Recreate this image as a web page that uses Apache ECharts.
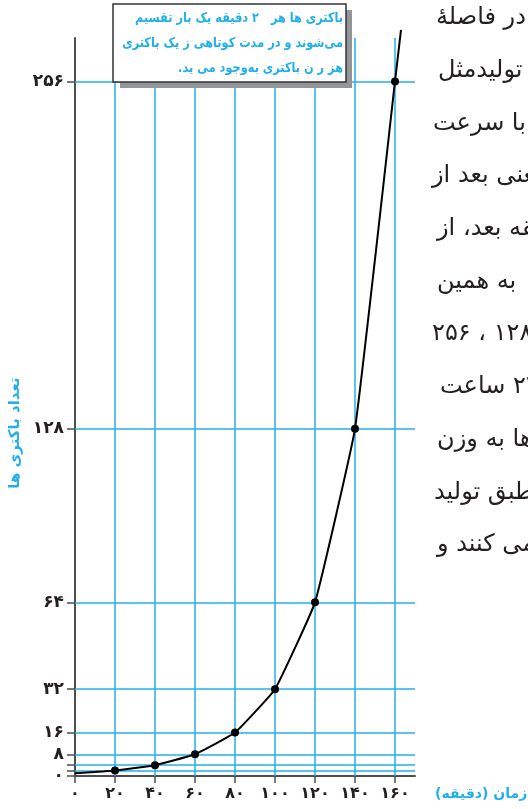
<!DOCTYPE html>
<html>
<head>
<meta charset="utf-8">
<script src="https://cdn.jsdelivr.net/npm/echarts@6/dist/echarts.min.js"></script>
<style>
  html, body { margin: 0; padding: 0; background: #fff; }
  #main { width: 528px; height: 809px; }
</style>
</head>
<body>
<div id="main"></div>
<script>
// time (minutes) and number of bacteria
var times = [0, 20, 40, 60, 80, 100, 120, 140, 160, 163];
var counts = [1, 2, 4, 8, 16, 32, 64, 128, 256, 275];
var xTicks = [0, 20, 40, 60, 80, 100, 120, 140, 160];
var yTicks = [0, 2, 4, 8, 16, 32, 64, 128, 256];
var yLabels = [0, 8, 16, 32, 64, 128, 256];

var xName = 'زمان (دقیقه)';
var yName = 'تعداد باکتری ها';
var noteLines = [
  'باکتری ها هر   ۲ دقیقه یک بار تقسیم',
  'می‌شوند و در مدت کوتاهی ز یک باکتری',
  'هز ر ن باکتری به‌وجود می ید.'
];
var bodyLines = [
  'در فاصلهٔ',
  'تولیدمثل',
  'با سرعت',
  'یعنی بعد از',
  'دقیقه بعد، از',
  'به همین',
  '۱۲۸ ، ۲۵۶',
  '۲۴ ساعت',
  'ها به وزن',
  'طبق تولید',
  'می کنند و'
];
var bodyX = [436, 438, 433, 432, 437, 437, 432, 440, 437, 434, 437];

var BLUE = '#22b0ea';
var INK = '#231f20';
var XMAX = 170, YMAX = 272;

function fa(v) {
  return String(v).replace(/\d/g, function (d) { return '۰۱۲۳۴۵۶۷۸۹'[d]; });
}
function rtl(s) {
  return '\u202B' + s + '\u202C';
}

var chart = echarts.init(document.getElementById('main'), null, {renderer: 'canvas'});

// grid lines as mark lines
var gridLines = [];
yTicks.forEach(function (y) {
  if (y > 0) gridLines.push([{coord: [0, y]}, {coord: [XMAX, y]}]);
});
xTicks.forEach(function (x) {
  if (x > 0) gridLines.push([{coord: [x, 0]}, {coord: [x, YMAX]}]);
});

var graphics = [];
// note box with shadow
graphics.push({
  type: 'rect', z: 100, silent: true,
  shape: {x: 120, y: 10, width: 232, height: 78},
  style: {fill: '#939598'}
});
graphics.push({
  type: 'rect', z: 101, silent: true,
  shape: {x: 113, y: 4, width: 233, height: 78},
  style: {fill: '#fff', stroke: '#333', lineWidth: 1.5}
});
noteLines.forEach(function (s, i) {
  graphics.push({
    type: 'text', z: 102, silent: true,
    x: 343, y: 18 + i * 25, scaleX: 0.84,
    style: {
      text: rtl(s), fill: BLUE, align: 'right', verticalAlign: 'middle',
      font: 'bold 13.5px "DejaVu Sans"'
    }
  });
});
// paragraph on the right, cut off by the page edge
bodyLines.forEach(function (s, i) {
  graphics.push({
    type: 'text', silent: true,
    x: bodyX[i], y: 18 + i * 52.7,
    style: {
      text: rtl(s), fill: INK, align: 'left', verticalAlign: 'middle',
      font: '24px "DejaVu Sans"'
    }
  });
});
// axis names
graphics.push({
  type: 'text', silent: true,
  x: 435, y: 794,
  style: {
    text: rtl(xName), fill: BLUE, align: 'left', verticalAlign: 'middle',
    font: 'bold 14px "DejaVu Sans"'
  }
});
graphics.push({
  type: 'text', silent: true,
  x: 15, y: 433, rotation: Math.PI / 2,
  style: {
    text: rtl(yName), fill: BLUE, align: 'center', verticalAlign: 'middle',
    font: 'bold 15px "DejaVu Sans"'
  }
});

chart.setOption({
  animation: false,
  backgroundColor: '#fff',
  grid: {left: 75, right: 113, top: 38, bottom: 33},
  xAxis: {
    type: 'value', min: 0, max: XMAX,
    axisLine: {show: true, onZero: false, lineStyle: {color: '#4d4d4d', width: 2}},
    axisTick: {show: true, length: 7, customValues: xTicks, lineStyle: {color: '#4d4d4d', width: 1.5}},
    axisLabel: {
      customValues: xTicks, margin: 10, color: INK,
      fontFamily: 'DejaVu Sans', fontWeight: 'bold', fontSize: 16,
      formatter: fa
    },
    splitLine: {show: false}
  },
  yAxis: {
    type: 'value', min: 0, max: YMAX,
    axisLine: {show: true, onZero: false, lineStyle: {color: '#4d4d4d', width: 2}},
    axisTick: {show: true, length: 8, customValues: yTicks, lineStyle: {color: '#4d4d4d', width: 1.5}},
    axisLabel: {
      customValues: yLabels, margin: 11, color: INK,
      fontFamily: 'DejaVu Sans', fontWeight: 'bold', fontSize: 17,
      formatter: fa
    },
    splitLine: {show: false}
  },
  series: [
    {
      type: 'line', z: 1, silent: true, data: [],
      markLine: {
        silent: true, symbol: 'none', label: {show: false},
        lineStyle: {type: 'solid', color: BLUE, width: 1.5},
        emphasis: {disabled: true},
        data: gridLines
      }
    },
    {
      type: 'line', z: 5, clip: false,
      smooth: 0.1,
      data: times.map(function (t, i) {
        var hide = (i === 0 || i === times.length - 1);
        return {value: [t, counts[i]], symbol: hide ? 'none' : 'circle'};
      }),
      symbolSize: 8,
      itemStyle: {color: '#000'},
      lineStyle: {color: '#000', width: 2}
    }
  ],
  graphic: graphics
});
</script>
</body>
</html>
